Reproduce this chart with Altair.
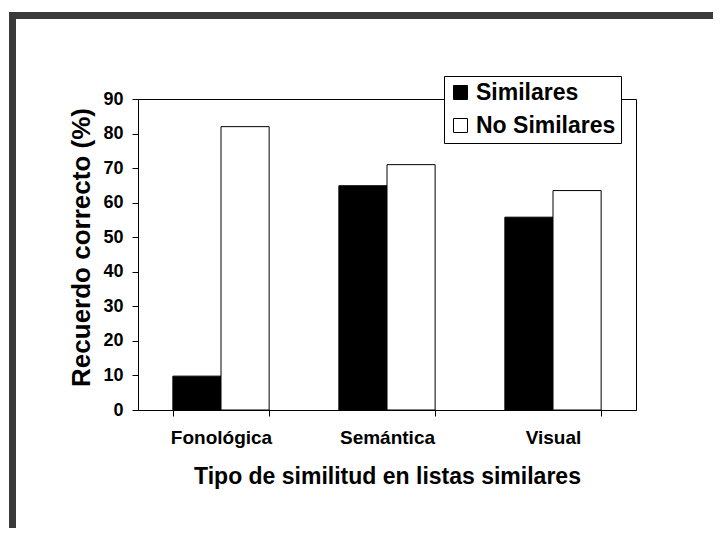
import altair as alt
import pandas as pd

categories = ["Fonológica", "Semántica", "Visual"]
series = ["Similares", "No Similares"]
similares = [9.8, 64.9, 55.8]
no_similares = [82.0, 71.0, 63.5]
y_ticks = [0, 10, 20, 30, 40, 50, 60, 70, 80, 90]

rows = []
for i, c in enumerate(categories):
    rows.append({"tipo": c, "serie": "Similares", "valor": similares[i]})
    rows.append({"tipo": c, "serie": "No Similares", "valor": no_similares[i]})
df = pd.DataFrame(rows)

W, H = 498, 311
FONT = "Liberation Sans"
FRAME = "#3a3a3a"

bars = alt.Chart(df).mark_bar(stroke="black", strokeWidth=1).encode(
    x=alt.X(
        "tipo:N",
        sort=categories,
        title="Tipo de similitud en listas similares",
        scale=alt.Scale(paddingInner=0.42, paddingOuter=0.21),
        axis=alt.Axis(
            labelAngle=0, tickBand="extent", tickSize=6, labelPadding=12,
            titlePadding=18, labelFontSize=19, titleFontSize=23,
        ),
    ),
    xOffset=alt.XOffset("serie:N", sort=series),
    y=alt.Y(
        "valor:Q",
        title="Recuerdo correcto (%)",
        scale=alt.Scale(domain=[0, 90]),
        axis=alt.Axis(
            values=y_ticks, tickSize=6, labelPadding=9, titlePadding=8,
            labelFontSize=18, titleFontSize=26, titleY=148,
        ),
    ),
    color=alt.Color(
        "serie:N",
        sort=series,
        scale=alt.Scale(domain=series, range=["black", "white"]),
        legend=alt.Legend(
            title=None, orient="none", legendX=306, legendY=-23,
            fillColor="white", strokeColor="black", padding=5,
            symbolType="square", symbolSize=196, symbolStrokeColor="black",
            symbolStrokeWidth=1, symbolOpacity=1, labelFontSize=23,
            labelFont=FONT, labelFontWeight="bold", labelColor="black",
            rowPadding=9, labelOffset=4,
        ),
    ),
)

frame_data = pd.DataFrame({"k": [0]})
left_frame = alt.Chart(frame_data).mark_rule(color=FRAME, strokeWidth=7).encode(
    x=alt.value(-125.5), y=alt.value(-87), y2=alt.value(H + 200)
)
top_frame = alt.Chart(frame_data).mark_rule(color=FRAME, strokeWidth=7).encode(
    y=alt.value(-83.5), x=alt.value(-129), x2=alt.value(W + 200)
)

chart = alt.layer(left_frame, top_frame, bars).properties(
    width=W,
    height=H,
    autosize=alt.AutoSizeParams(type="none"),
    padding={"left": 130, "top": 91, "right": 77, "bottom": 118},
    background="white",
).configure_view(
    stroke="black", strokeWidth=1
).configure_axis(
    grid=False,
    domainColor="black",
    tickColor="black",
    labelColor="black",
    titleColor="black",
    labelFont=FONT,
    titleFont=FONT,
    labelFontWeight="bold",
    titleFontWeight="bold",
)

chart.save("out.html", embed_options={"renderer": "svg", "actions": False})
